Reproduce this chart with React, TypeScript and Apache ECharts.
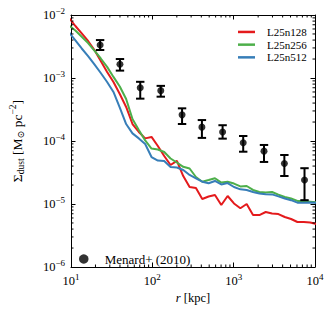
import React, { useEffect, useRef } from 'react';
import * as echarts from 'echarts';

const radius = [9.46, 11.32, 13.55, 16.22, 19.41, 23.23, 27.8, 33.27, 39.81, 47.64, 57.02, 68.23, 81.66, 97.72, 116.9, 140.0, 167.5, 200.4, 239.9, 287.1, 343.6, 411.1, 492.0, 588.8, 704.7, 843.3, 1009, 1208, 1445, 1730, 2070, 2477, 2965, 3548, 4246, 5082, 6081, 7278, 8710, 10420];

const l25n128 = [8.96e-3, 6.69e-3, 5.09e-3, 3.87e-3, 2.78e-3, 1.86e-3, 1.245e-3, 8.64e-4, 5.57e-4, 3.47e-4, 1.86e-4, 1.39e-4, 1.10e-4, 1.16e-4, 8.33e-5, 5.78e-5, 4.16e-5, 4.82e-5, 2.78e-5, 1.86e-5, 1.79e-5, 1.20e-5, 1.315e-5, 1.39e-5, 9.64e-6, 1.34e-5, 1.02e-5, 8.55e-6, 1.0e-5, 6.68e-6, 6.68e-6, 7.46e-6, 7.06e-6, 6.93e-6, 6.22e-6, 5.78e-6, 5.18e-6, 5.18e-6, 5.08e-6, 4.82e-6];

const l25n256 = [6.81e-3, 5.68e-3, 4.52e-3, 3.59e-3, 2.73e-3, 2.04e-3, 1.50e-3, 1.04e-3, 7.33e-4, 4.64e-4, 2.23e-4, 1.50e-4, 1.02e-4, 7.60e-5, 7.33e-5, 6.68e-5, 5.27e-5, 4.56e-5, 3.89e-5, 3.66e-5, 2.68e-5, 2.26e-5, 2.40e-5, 2.56e-5, 2.19e-5, 2.25e-5, 2.11e-5, 1.90e-5, 1.93e-5, 1.67e-5, 1.55e-5, 1.52e-5, 1.55e-5, 1.41e-5, 1.29e-5, 1.22e-5, 1.12e-5, 1.12e-5, 1.09e-5, 1.06e-5];

const l25n512 = [5.28e-3, 3.94e-3, 2.94e-3, 2.23e-3, 1.64e-3, 1.20e-3, 8.64e-4, 6.00e-4, 3.40e-4, 1.86e-4, 1.32e-4, 1.10e-4, 8.96e-5, 5.57e-5, 4.90e-5, 4.82e-5, 3.86e-5, 3.79e-5, 3.47e-5, 2.89e-5, 2.56e-5, 2.26e-5, 2.13e-5, 2.32e-5, 2.04e-5, 2.15e-5, 1.86e-5, 1.71e-5, 1.67e-5, 1.55e-5, 1.47e-5, 1.43e-5, 1.42e-5, 1.32e-5, 1.22e-5, 1.15e-5, 1.05e-5, 1.05e-5, 1.06e-5, 1.05e-5];

const menardR = [22.8, 40, 71, 127, 232, 407, 731, 1310, 2360, 4200, 7430];
const menardY = [3.34e-3, 1.65e-3, 7.0e-4, 6.3e-4, 2.6e-4, 1.66e-4, 1.39e-4, 9.4e-5, 6.9e-5, 4.4e-5, 2.4e-5];
const menardHi = [4.0e-3, 2.0e-3, 8.7e-4, 7.5e-4, 3.3e-4, 2.15e-4, 1.78e-4, 1.2e-4, 8.65e-5, 6.0e-5, 3.7e-5];
const menardLo = [2.78e-3, 1.31e-3, 4.7e-4, 5.05e-4, 1.86e-4, 1.12e-4, 1.09e-4, 6.76e-5, 4.65e-5, 2.78e-5, 1.15e-5];

const xMinorTicks = [20, 30, 40, 50, 60, 70, 80, 90, 200, 300, 400, 500, 600, 700, 800, 900, 2000, 3000, 4000, 5000, 6000, 7000, 8000, 9000];
const yMinorTicks = [2e-6, 3e-6, 4e-6, 5e-6, 6e-6, 7e-6, 8e-6, 9e-6, 2e-5, 3e-5, 4e-5, 5e-5, 6e-5, 7e-5, 8e-5, 9e-5, 2e-4, 3e-4, 4e-4, 5e-4, 6e-4, 7e-4, 8e-4, 9e-4, 2e-3, 3e-3, 4e-3, 5e-3, 6e-3, 7e-3, 8e-3, 9e-3];

const seriesNames = ['L25n128', 'L25n256', 'L25n512'];
const seriesColors = ['#e41a1c', '#4daf4a', '#377eb8'];
const obsName = 'Menard+ (2010)';

const FONT = "'Liberation Serif', 'DejaVu Serif', serif";

export default function App() {
  const ref = useRef<HTMLDivElement>(null);
  useEffect(() => {
    if (!ref.current) return;
    const chart = echarts.init(ref.current, null, { renderer: 'svg' });
    const xMin = 10, xMax = 10000, yMin = 1e-6, yMax = 1e-2;
    const tickLabel = (v: number) => {
      const e = Math.round(Math.log10(v));
      return `{b|10}{p|${e < 0 ? '\u2212' + -e : e}}`;
    };
    const labelRich = {
      b: { fontSize: 12.5, fontFamily: FONT, color: '#000' },
      p: { fontSize: 9, fontFamily: FONT, color: '#000', padding: [0, 0, 8, 0] },
    };
    const axisCommon = {
      type: 'log',
      logBase: 10,
      axisLine: { show: true, lineStyle: { color: '#000', width: 1 } },
      axisTick: { show: true, inside: true, length: 4.5, lineStyle: { color: '#000', width: 1 } },
      splitLine: { show: false },
      minorTick: { show: false },
    };
    const lineSeries = [l25n128, l25n256, l25n512].map((vals, i) => ({
      name: seriesNames[i],
      type: 'line',
      data: radius.map((r, j) => [r, vals[j]]),
      showSymbol: false,
      symbol: 'none',
      clip: true,
      lineStyle: { color: seriesColors[i], width: 2 },
      itemStyle: { color: seriesColors[i] },
      z: 2,
    }));
    const tickStyle = { stroke: '#000', lineWidth: 1 };
    chart.setOption({
      animation: false,
      grid: { left: 66, right: 21, top: 15, bottom: 49 },
      legend: [
        {
          data: seriesNames,
          orient: 'vertical',
          left: 233,
          top: 20.6,
          icon: 'rect',
          itemWidth: 17,
          itemHeight: 2.5,
          itemGap: 0,
          selectedMode: false,
          textStyle: { fontFamily: FONT, fontSize: 11, color: '#000', padding: [0, 0, 0, 7], lineHeight: 12.7 },
        },
        {
          data: [obsName],
          left: 74,
          top: 247.5,
          icon: 'circle',
          itemWidth: 19,
          itemHeight: 9.5,
          selectedMode: false,
          textStyle: { fontFamily: FONT, fontSize: 13, color: '#000', padding: [0, 0, 0, 6.5] },
        },
      ],
      xAxis: [
        {
          ...axisCommon,
          min: xMin,
          max: xMax,
          position: 'bottom',
          axisLabel: { show: true, margin: 5, formatter: tickLabel, rich: labelRich },
          name: '{i|r} [kpc]',
          nameLocation: 'middle',
          nameGap: 24,
          nameTextStyle: {
            fontFamily: FONT, fontSize: 12.5, color: '#000',
            rich: { i: { fontFamily: FONT, fontSize: 12.5, fontStyle: 'italic', color: '#000' } },
          },
        },
        { ...axisCommon, min: xMin, max: xMax, position: 'top', axisLabel: { show: false } },
      ],
      yAxis: [
        {
          ...axisCommon,
          min: yMin,
          max: yMax,
          position: 'left',
          axisLabel: { show: true, margin: 6, formatter: tickLabel, rich: labelRich },
          name: '{a|\u03a3}{s|dust}{a| [M}{s|\u2299}{a| pc}{p|\u22122}{a|]}',
          nameLocation: 'middle',
          nameRotate: 90,
          nameGap: 44,
          nameTextStyle: {
            fontFamily: FONT, fontSize: 13.5, color: '#000',
            rich: {
              a: { fontFamily: FONT, fontSize: 13.5, color: '#000' },
              s: { fontFamily: FONT, fontSize: 9.5, color: '#000', padding: [6, 0, 0, 0] },
              p: { fontFamily: FONT, fontSize: 9.5, color: '#000', padding: [0, 0, 9, 0] },
            },
          },
        },
        { ...axisCommon, min: yMin, max: yMax, position: 'right', axisLabel: { show: false } },
      ],
      series: [
        ...lineSeries,
        {
          name: 'errbar',
          type: 'custom',
          xAxisIndex: 0,
          yAxisIndex: 0,
          z: 3,
          silent: true,
          data: menardR.map((r, i) => [r, menardLo[i], menardHi[i]]),
          encode: { x: 0, y: [1, 2] },
          renderItem: (params: any, api: any) => {
            const x = api.value(0);
            const pLo = api.coord([x, api.value(1)]);
            const pHi = api.coord([x, api.value(2)]);
            const cap = 4.2;
            const st = { stroke: '#000', lineWidth: 2 };
            return {
              type: 'group',
              children: [
                { type: 'line', shape: { x1: pLo[0], y1: pLo[1], x2: pHi[0], y2: pHi[1] }, style: st },
                { type: 'line', shape: { x1: pLo[0] - cap, y1: pLo[1], x2: pLo[0] + cap, y2: pLo[1] }, style: st },
                { type: 'line', shape: { x1: pHi[0] - cap, y1: pHi[1], x2: pHi[0] + cap, y2: pHi[1] }, style: st },
              ],
            };
          },
        },
        {
          name: obsName,
          type: 'scatter',
          z: 4,
          symbol: 'circle',
          symbolSize: 7,
          itemStyle: { color: '#000' },
          data: menardR.map((r, i) => [r, menardY[i]]),
        },
        {
          name: 'xminor',
          type: 'custom',
          silent: true,
          z: 5,
          data: xMinorTicks.map((v) => [v, 1e-4]),
          encode: { x: 0, y: 1 },
          renderItem: (params: any, api: any) => {
            const cs = params.coordSys;
            const x = api.coord([api.value(0), 1e-4])[0];
            const top = cs.y, bot = cs.y + cs.height;
            return {
              type: 'group',
              children: [
                { type: 'line', shape: { x1: x, y1: bot, x2: x, y2: bot - 2.5 }, style: tickStyle },
                { type: 'line', shape: { x1: x, y1: top, x2: x, y2: top + 2.5 }, style: tickStyle },
              ],
            };
          },
        },
        {
          name: 'yminor',
          type: 'custom',
          silent: true,
          z: 5,
          data: yMinorTicks.map((v) => [100, v]),
          encode: { x: 0, y: 1 },
          renderItem: (params: any, api: any) => {
            const cs = params.coordSys;
            const y = api.coord([100, api.value(1)])[1];
            const left = cs.x, right = cs.x + cs.width;
            return {
              type: 'group',
              children: [
                { type: 'line', shape: { x1: left, y1: y, x2: left + 2.5, y2: y }, style: tickStyle },
                { type: 'line', shape: { x1: right, y1: y, x2: right - 2.5, y2: y }, style: tickStyle },
              ],
            };
          },
        },
      ],
    } as any);
    return () => chart.dispose();
  }, []);
  return (
    <div
      ref={ref}
      style={{ position: 'fixed', left: 0, top: 0, width: 336, height: 316, background: '#fff' }}
    />
  );
}
